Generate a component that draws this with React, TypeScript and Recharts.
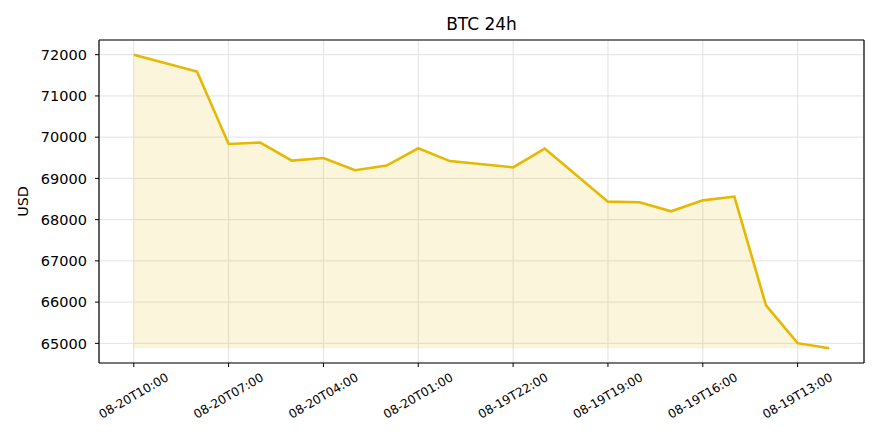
import React from "react";
import { ComposedChart, Area, XAxis, YAxis, CartesianGrid } from "recharts";

// hours elapsed from 08-20T10:00 going backwards (x position of each sample)
const hoursBack = [0, 2, 3, 4, 5, 6, 7, 8, 9, 10, 12, 13, 15, 16, 17, 18, 19, 20, 21, 22];
const prices = [
  72000, 71592, 69835, 69869, 69432, 69495, 69197, 69311, 69731, 69420,
  69269, 69723, 68437, 68420, 68202, 68468, 68560, 65920, 65005, 64880,
];
const xTickValues = [0, 3, 6, 9, 12, 15, 18, 21];
const xTickLabels = [
  "08-20T10:00", "08-20T07:00", "08-20T04:00", "08-20T01:00",
  "08-19T22:00", "08-19T19:00", "08-19T16:00", "08-19T13:00",
];
const yTicks = [65000, 66000, 67000, 68000, 69000, 70000, 71000, 72000];

const data = hoursBack.map((h, i) => ({ h, price: prices[i] }));
const minPrice = Math.min(...prices);
const maxPrice = Math.max(...prices);
const pad = (maxPrice - minPrice) * 0.05;
const xPad = (hoursBack[hoursBack.length - 1] - hoursBack[0]) * 0.05;

const FONT = "'DejaVu Sans', sans-serif";
const LINE = "#e6b800";

const XTick = (props: any) => {
  const { x, y, payload } = props;
  const idx = xTickValues.indexOf(payload.value);
  const label = idx >= 0 ? xTickLabels[idx] : "";
  const cy = y + 27;
  return (
    <text
      x={x}
      y={cy}
      transform={`rotate(-30 ${x} ${cy})`}
      textAnchor="middle"
      dominantBaseline="central"
      fontSize={12.2}
      fontFamily={FONT}
      fill="#000"
    >
      {label}
    </text>
  );
};

export default function App() {
  return (
    <div style={{ position: "absolute", left: 0, top: 0, width: 880, height: 440, background: "#fff" }}>
      <ComposedChart
        width={880}
        height={440}
        data={data}
        margin={{ top: 39, right: 15, bottom: 0, left: 0 }}
      >
        <CartesianGrid stroke="#e2e2e2" strokeWidth={1} />
        <XAxis
          dataKey="h"
          type="number"
          domain={[hoursBack[0] - xPad, hoursBack[hoursBack.length - 1] + xPad]}
          ticks={xTickValues}
          tick={<XTick />}
          tickSize={4}
          tickMargin={2}
          height={77}
          stroke="#000"
          axisLine={{ stroke: "#000", strokeWidth: 1.2 }}
          tickLine={{ stroke: "#000", strokeWidth: 1 }}
          allowDataOverflow
        />
        <XAxis
          xAxisId="top"
          orientation="top"
          dataKey="h"
          type="number"
          domain={[hoursBack[0] - xPad, hoursBack[hoursBack.length - 1] + xPad]}
          tick={false}
          tickLine={false}
          height={1}
          stroke="#000"
          axisLine={{ stroke: "#000", strokeWidth: 1.2 }}
          allowDataOverflow
        />
        <YAxis
          type="number"
          domain={[minPrice - pad, maxPrice + pad]}
          ticks={yTicks}
          allowDataOverflow
          width={99}
          tickSize={4}
          tickMargin={8}
          stroke="#000"
          axisLine={{ stroke: "#000", strokeWidth: 1.2 }}
          tickLine={{ stroke: "#000", strokeWidth: 1 }}
          tick={{ fontSize: 14.5, fontFamily: FONT, fill: "#000" }}
        />
        <YAxis
          yAxisId="right"
          orientation="right"
          type="number"
          domain={[minPrice - pad, maxPrice + pad]}
          tick={false}
          tickLine={false}
          width={1}
          stroke="#000"
          axisLine={{ stroke: "#000", strokeWidth: 1.2 }}
          allowDataOverflow
        />
        <Area
          type="linear"
          dataKey="price"
          baseValue={minPrice}
          stroke={LINE}
          strokeWidth={2.6}
          fill={LINE}
          fillOpacity={0.14}
          isAnimationActive={false}
          dot={false}
          activeDot={false}
        />
      </ComposedChart>
      <svg
        width={880}
        height={440}
        style={{ position: "absolute", left: 0, top: 0, pointerEvents: "none" }}
      >
        <text x={481.5} y={30} textAnchor="middle" fontSize={17} fontFamily={FONT} fill="#000">
          BTC 24h
        </text>
        <text
          x={23}
          y={201.5}
          transform="rotate(-90 23 201.5)"
          textAnchor="middle"
          dominantBaseline="central"
          fontSize={14.3}
          fontFamily={FONT}
          fill="#000"
        >
          USD
        </text>
      </svg>
    </div>
  );
}
